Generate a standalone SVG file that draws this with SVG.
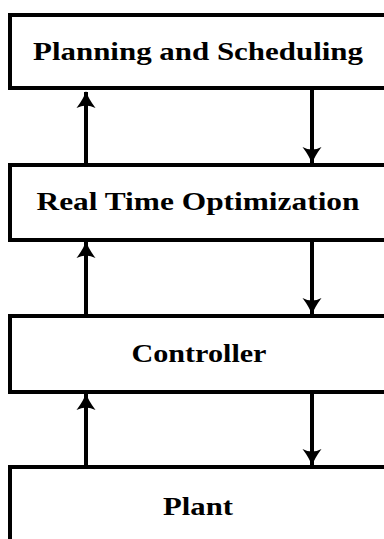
<svg xmlns="http://www.w3.org/2000/svg" width="384" height="539" viewBox="0 0 384 539">
<style>
.box{fill:#fff;stroke:#000;stroke-width:4}
.lbl{font-family:"Liberation Serif","DejaVu Serif",serif;font-weight:bold;font-size:26px;fill:#000;text-anchor:middle}
.con{stroke:#000;stroke-width:4;fill:none}
</style>
<defs>
<marker id="ah" markerUnits="userSpaceOnUse" markerWidth="20" markerHeight="22" viewBox="-17 -11 19 22" refX="0" refY="0" orient="auto">
<path d="M-16,-9.5 Q-6,-2 1,0 Q-6,2 -16,9.5 Q-11,0 -16,-9.5 Z" fill="#000"/>
</marker>
</defs>
<g id="n1"><rect class="box" x="10" y="15" width="378" height="73"/><text class="lbl" x="198" y="60" textLength="330" lengthAdjust="spacingAndGlyphs">Planning and Scheduling</text></g>
<g id="n2"><rect class="box" x="10" y="165" width="378" height="75"/><text class="lbl" x="198" y="210" textLength="323" lengthAdjust="spacingAndGlyphs">Real Time Optimization</text></g>
<g id="n3"><rect class="box" x="10" y="316" width="378" height="76"/><text class="lbl" x="199" y="362" textLength="135" lengthAdjust="spacingAndGlyphs">Controller</text></g>
<g id="n4"><rect class="box" x="10" y="467" width="378" height="90"/><text class="lbl" x="198" y="515" textLength="70" lengthAdjust="spacingAndGlyphs">Plant</text></g>
<g id="connectors">
<line class="con" x1="86" y1="165" x2="86" y2="92" marker-end="url(#ah)"/>
<line class="con" x1="312" y1="90" x2="312" y2="163" marker-end="url(#ah)"/>
<line class="con" x1="86" y1="316" x2="86" y2="242" marker-end="url(#ah)"/>
<line class="con" x1="312" y1="242" x2="312" y2="314" marker-end="url(#ah)"/>
<line class="con" x1="86" y1="467" x2="86" y2="394" marker-end="url(#ah)"/>
<line class="con" x1="312" y1="394" x2="312" y2="465" marker-end="url(#ah)"/>
</g>
</svg>
